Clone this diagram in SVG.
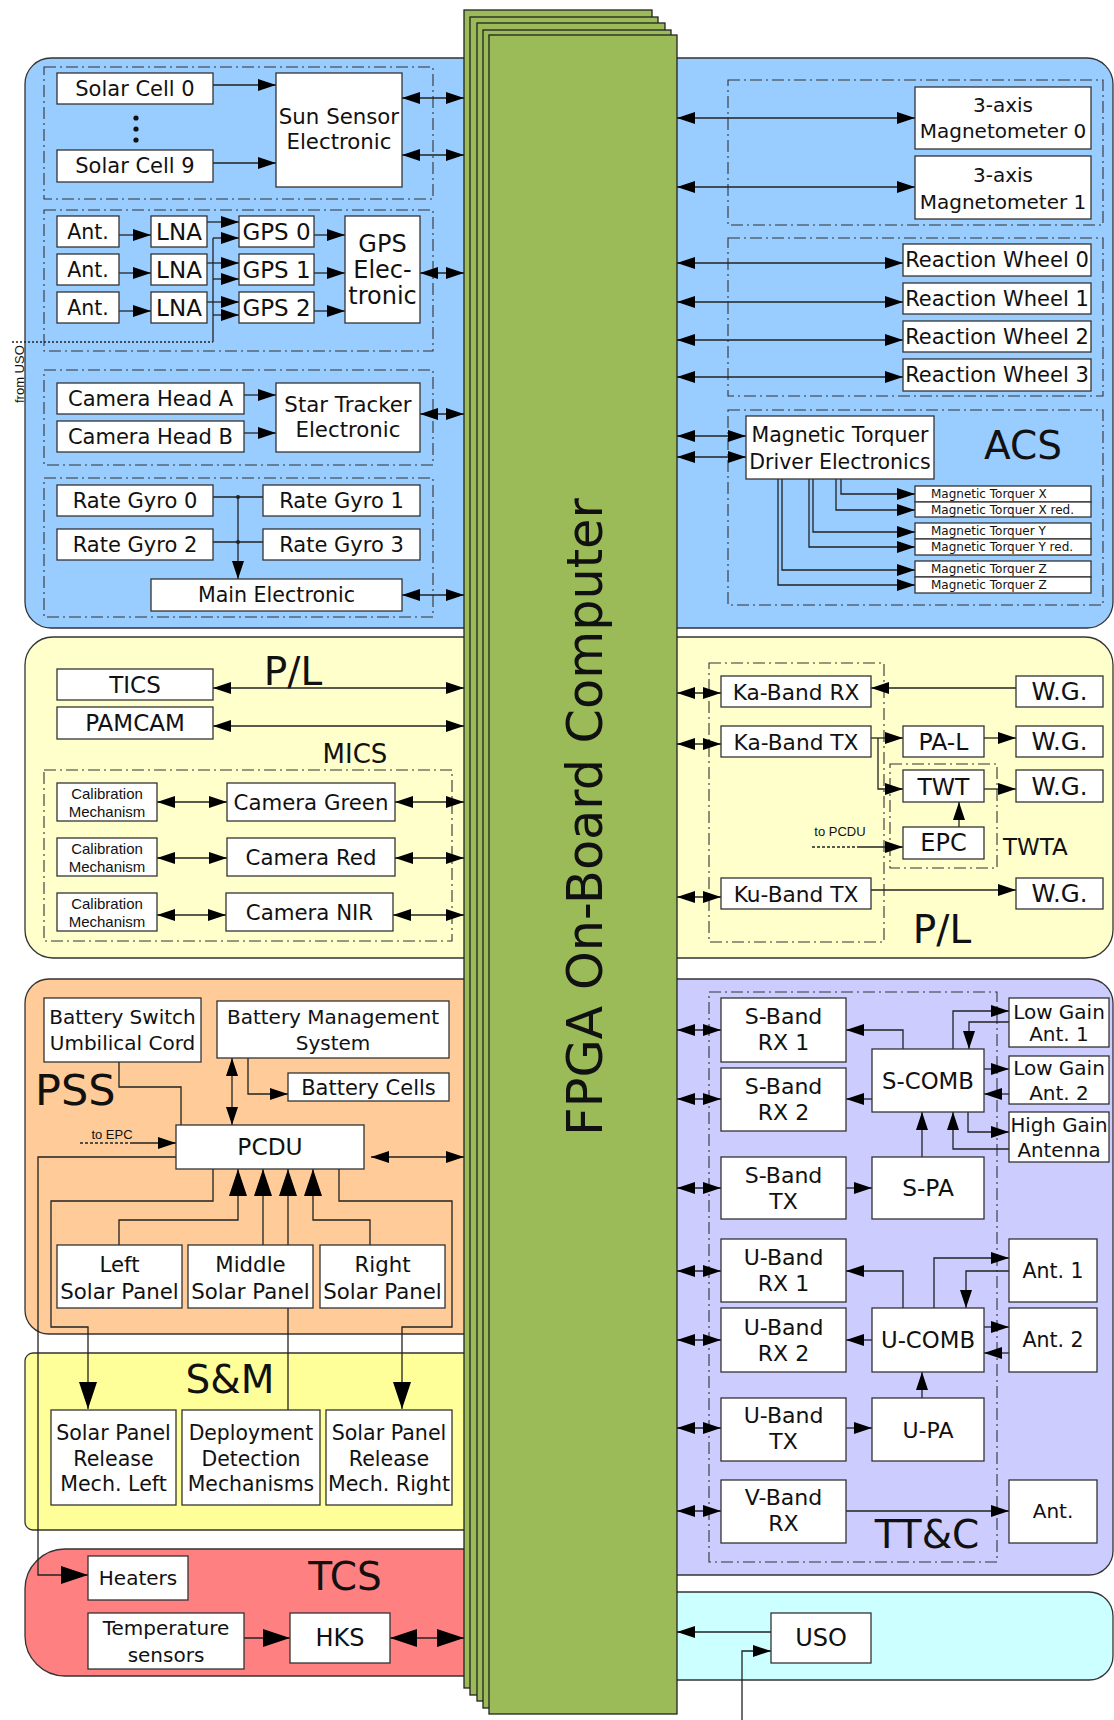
<svg xmlns="http://www.w3.org/2000/svg" width="1114" height="1720" viewBox="0 0 1114 1720">
<defs>
<style>
.p{stroke:#333;stroke-width:1.3}
.n rect{fill:#fff;stroke:#333;stroke-width:1.3}
.g{fill:none;stroke:#333;stroke-width:1.1;stroke-dasharray:12,4,2,4}
text{font-family:"DejaVu Sans",Verdana,sans-serif;font-size:21px;fill:#111;text-anchor:middle}
.f20{font-size:20px}
.f22{font-size:22px}
.f23{font-size:23px}
.f24{font-size:24px}
.lbl{font-size:39px}
.sm{font-family:"Liberation Sans",Arial,sans-serif;font-size:15px}
.xs{font-family:"Liberation Sans",Arial,sans-serif;font-size:13px}
.mt{font-size:12px;text-anchor:start}
#conn path{fill:none;stroke:#222;stroke-width:1.3}
.s{marker-end:url(#a)}
.d{marker-start:url(#a);marker-end:url(#a)}
.bs{marker-end:url(#b)}
.bd{marker-start:url(#b);marker-end:url(#b)}
.fp rect{fill:#9bbb59;stroke:#222;stroke-width:1.3}
</style>
<marker id="a" viewBox="0 0 18 12" refX="18" refY="6" markerWidth="18" markerHeight="12" markerUnits="userSpaceOnUse" orient="auto-start-reverse"><path d="M0,0L18,6L0,12z" fill="#000"/></marker>
<marker id="b" viewBox="0 0 27 18" refX="27" refY="9" markerWidth="27" markerHeight="18" markerUnits="userSpaceOnUse" orient="auto-start-reverse"><path d="M0,0L27,9L0,18z" fill="#000"/></marker>
</defs>
<rect width="1114" height="1720" fill="#fff"/>
<!-- panels -->
<g id="panels">
<rect class="p" x="25" y="58" width="1088" height="570" rx="26" fill="#99ccff"/>
<rect class="p" x="25" y="637" width="1088" height="321" rx="28" fill="#ffffcc"/>
<rect class="p" x="25" y="979" width="480" height="355" rx="24" fill="#ffcc99"/>
<rect class="p" x="620" y="979" width="493" height="596" rx="24" fill="#ccccff"/>
<rect class="p" x="25" y="1353" width="480" height="177" rx="8" fill="#ffff99"/>
<rect class="p" x="25" y="1549" width="480" height="127" rx="40" fill="#ff8080"/>
<rect class="p" x="620" y="1592" width="493" height="88" rx="24" fill="#ccffff"/>
<rect class="g" x="44" y="67" width="389" height="132"/>
<rect class="g" x="44" y="210" width="389" height="141"/>
<rect class="g" x="44" y="370" width="389" height="95"/>
<rect class="g" x="44" y="478" width="389" height="139"/>
<rect class="g" x="728" y="80" width="375" height="145"/>
<rect class="g" x="728" y="238" width="375" height="158"/>
<rect class="g" x="728" y="410" width="375" height="195"/>
<rect class="g" x="44" y="770" width="408" height="171"/>
<rect class="g" x="709" y="663" width="175" height="279"/>
<rect class="g" x="890" y="764" width="107" height="104"/>
<rect class="g" x="709" y="992" width="288" height="570"/>
<text class="lbl" x="1023" y="459">ACS</text>
<text class="lbl" x="293" y="685">P/L</text>
<text x="355" y="763" style="font-size:26px">MICS</text>
<text x="1003" y="855" style="font-size:23px;text-anchor:start">TWTA</text>
<text class="lbl" x="942" y="943">P/L</text>
<text x="35" y="1105" style="font-size:43px;text-anchor:start">PSS</text>
<text class="lbl" x="230" y="1393">S&amp;M</text>
<text class="lbl" x="345" y="1590">TCS</text>
<text class="lbl" x="927" y="1548">TT&amp;C</text>
</g>
<!-- FPGA -->
<g id="fpga" class="fp">
<rect x="464" y="10" width="188" height="1678"/>
<rect x="470" y="17" width="188" height="1678"/>
<rect x="477" y="23" width="188" height="1678"/>
<rect x="483" y="30" width="188" height="1678"/>
<rect x="489" y="35" width="188" height="1679"/>
<text transform="translate(602,817) rotate(-90)" style="font-size:49.3px">FPGA On-Board Computer</text>
</g>
<!-- connectors -->
<g id="conn">
<path class="s" d="M213,85H276"/>
<path class="s" d="M213,163H276"/>
<path class="d" d="M402,98H464"/>
<path class="d" d="M402,155H464"/>
<path class="s" d="M119,235H151"/>
<path class="s" d="M119,273H151"/>
<path class="s" d="M119,311H151"/>
<path class="s" d="M207,222H239"/>
<path class="s" d="M207,263H239"/>
<path class="s" d="M207,302H239"/>
<path d="M12,342H213" style="stroke-dasharray:2,2"/>
<path d="M213,342V238"/>
<path class="s" d="M213,238H239"/>
<path class="s" d="M213,279H239"/>
<path class="s" d="M213,315H239"/>
<path class="s" d="M314,235H345"/>
<path class="s" d="M314,273H345"/>
<path class="s" d="M314,311H345"/>
<path class="d" d="M420,273H464"/>
<path class="s" d="M244,395H276"/>
<path class="s" d="M244,433H276"/>
<path class="d" d="M420,414H464"/>
<path d="M213,497H263M213,542H263"/>
<path class="s" d="M238,497V579"/>
<path class="d" d="M402,595H464"/>
<path class="d" d="M677,118H915"/>
<path class="d" d="M677,187H915"/>
<path class="d" d="M677,263H903"/>
<path class="d" d="M677,302H903"/>
<path class="d" d="M677,340H903"/>
<path class="d" d="M677,377H903"/>
<path class="d" d="M677,436H746"/>
<path class="d" d="M677,457H746"/>
<path class="s" d="M841,479V494H915"/>
<path class="s" d="M836,479V510H915"/>
<path class="s" d="M813,479V532H915"/>
<path class="s" d="M809,479V547H915"/>
<path class="s" d="M782,479V570H915"/>
<path class="s" d="M778,479V585H915"/>
<path class="d" d="M213,688H464"/>
<path class="d" d="M213,726H464"/>
<path class="d" d="M157,802H227"/>
<path class="d" d="M157,858H227"/>
<path class="d" d="M157,915H226"/>
<path class="d" d="M395,802H464"/>
<path class="d" d="M395,858H464"/>
<path class="d" d="M393,915H464"/>
<path class="d" d="M677,693H721"/>
<path class="d" d="M677,744H721"/>
<path class="d" d="M677,897H721"/>
<path class="s" d="M1016,688H871"/>
<path class="s" d="M871,738H903"/>
<path class="s" d="M878,738V789H903"/>
<path class="s" d="M984,738H1016"/>
<path class="s" d="M984,789H1016"/>
<path class="s" d="M959,827V802"/>
<path d="M812,847H860" style="stroke-dasharray:3,2"/>
<path class="s" d="M860,847H903"/>
<path class="s" d="M871,890H1016"/>
<path d="M119,1062V1087H181V1125"/>
<path class="d" d="M232,1058V1125"/>
<path class="s" d="M248,1058V1094H288"/>
<path d="M80,1143H133" style="stroke-dasharray:3,2"/>
<path class="s" d="M133,1143H176"/>
<path class="d" d="M371,1157H464"/>
<path class="bs" d="M176,1157H38V1575H88"/>
<path class="bs" d="M213,1169V1201H51V1327H88V1409"/>
<path class="bs" d="M339,1169V1201H452V1327H402V1409"/>
<path class="bs" d="M119,1245V1220H238V1169"/>
<path class="bs" d="M263,1245V1169"/>
<path class="bs" d="M288,1410V1169"/>
<path class="bs" d="M370,1245V1220H313V1169"/>
<path class="bs" d="M244,1638H290"/>
<path class="bd" d="M390,1638H464"/>
<path class="d" d="M677,1030H721"/>
<path class="d" d="M677,1099H721"/>
<path class="d" d="M677,1188H721"/>
<path class="d" d="M677,1271H721"/>
<path class="d" d="M677,1340H721"/>
<path class="d" d="M677,1428H721"/>
<path class="d" d="M677,1511H721"/>
<path class="s" d="M903,1049V1030H846"/>
<path class="s" d="M872,1099H846"/>
<path class="s" d="M922,1157V1112"/>
<path class="s" d="M846,1188H872"/>
<path class="s" d="M953,1049V1011H1009"/>
<path class="s" d="M1009,1022H969V1049"/>
<path class="s" d="M984,1069H1009"/>
<path class="s" d="M1009,1094H984"/>
<path class="s" d="M968,1112V1132H1009"/>
<path class="s" d="M1009,1149H953V1112"/>
<path class="s" d="M903,1308V1271H846"/>
<path class="s" d="M934,1308V1258H1009"/>
<path class="s" d="M1009,1271H966V1308"/>
<path class="s" d="M872,1340H846"/>
<path class="s" d="M984,1327H1009"/>
<path class="s" d="M1009,1353H984"/>
<path class="s" d="M922,1398V1372"/>
<path class="s" d="M846,1428H872"/>
<path class="s" d="M846,1511H1009"/>
<path class="s" d="M771,1632H677"/>
<path class="s" d="M742,1720V1651H771"/>
</g>
<circle cx="238" cy="497" r="2" fill="#222"/>
<circle cx="238" cy="542" r="2" fill="#222"/>
<circle cx="136" cy="118" r="2.6" fill="#111"/>
<circle cx="136" cy="129" r="2.6" fill="#111"/>
<circle cx="136" cy="140" r="2.6" fill="#111"/>
<text class="xs" transform="translate(24,403) rotate(-90)" style="text-anchor:start">from USO</text>
<text class="xs" x="840" y="836">to PCDU</text>
<text class="xs" x="112" y="1139">to EPC</text>
<!-- nodes -->
<g id="n-solar0" class="n"><rect x="57" y="73" width="156" height="31"/><text x="135" y="96">Solar Cell 0</text></g>
<g id="n-solar9" class="n"><rect x="57" y="150" width="156" height="32"/><text x="135" y="173">Solar Cell 9</text></g>
<g id="n-sse" class="n"><rect x="276" y="73" width="126" height="114"/><text x="339" y="124" style="font-size:21.3px">Sun Sensor</text><text x="339" y="149" style="font-size:21.3px">Electronic</text></g>
<g id="n-ant0" class="n"><rect x="57" y="216" width="62" height="31"/><text x="88" y="239" style="font-size:20.5px">Ant.</text></g>
<g id="n-ant1" class="n"><rect x="57" y="254" width="62" height="31"/><text x="88" y="277" style="font-size:20.5px">Ant.</text></g>
<g id="n-ant2" class="n"><rect x="57" y="292" width="62" height="31"/><text x="88" y="315" style="font-size:20.5px">Ant.</text></g>
<g id="n-lna0" class="n"><rect x="151" y="216" width="56" height="31"/><text class="f23" x="179" y="240">LNA</text></g>
<g id="n-lna1" class="n"><rect x="151" y="254" width="56" height="31"/><text class="f23" x="179" y="278">LNA</text></g>
<g id="n-lna2" class="n"><rect x="151" y="292" width="56" height="31"/><text class="f23" x="179" y="316">LNA</text></g>
<g id="n-gps0" class="n"><rect x="239" y="216" width="75" height="31"/><text class="f23" x="276.5" y="240">GPS 0</text></g>
<g id="n-gps1" class="n"><rect x="239" y="254" width="75" height="31"/><text class="f23" x="276.5" y="278">GPS 1</text></g>
<g id="n-gps2" class="n"><rect x="239" y="292" width="75" height="31"/><text class="f23" x="276.5" y="316">GPS 2</text></g>
<g id="n-gpse" class="n"><rect x="345" y="216" width="75" height="107"/><text class="f24" x="382.5" y="252">GPS</text><text class="f24" x="382.5" y="278">Elec-</text><text class="f24" x="382.5" y="304">tronic</text></g>
<g id="n-cama" class="n"><rect x="57" y="383" width="187" height="31"/><text x="150.5" y="406">Camera Head A</text></g>
<g id="n-camb" class="n"><rect x="57" y="421" width="187" height="31"/><text x="150.5" y="444">Camera Head B</text></g>
<g id="n-ste" class="n"><rect x="276" y="383" width="144" height="69"/><text x="348" y="412" style="font-size:21.3px">Star Tracker</text><text x="348" y="437" style="font-size:21.3px">Electronic</text></g>
<g id="n-rg0" class="n"><rect x="57" y="485" width="156" height="31"/><text x="135" y="508">Rate Gyro 0</text></g>
<g id="n-rg1" class="n"><rect x="263" y="485" width="157" height="31"/><text x="341.5" y="508">Rate Gyro 1</text></g>
<g id="n-rg2" class="n"><rect x="57" y="529" width="156" height="31"/><text x="135" y="552">Rate Gyro 2</text></g>
<g id="n-rg3" class="n"><rect x="263" y="529" width="157" height="31"/><text x="341.5" y="552">Rate Gyro 3</text></g>
<g id="n-main" class="n"><rect x="151" y="579" width="251" height="32"/><text x="276.5" y="602" style="font-size:20.6px">Main Electronic</text></g>
<g id="n-mag0" class="n"><rect x="915" y="87" width="176" height="62"/><text class="f20" x="1003" y="112">3-axis</text><text class="f20" x="1003" y="138">Magnetometer 0</text></g>
<g id="n-mag1" class="n"><rect x="915" y="156" width="176" height="63"/><text class="f20" x="1003" y="182">3-axis</text><text class="f20" x="1003" y="209">Magnetometer 1</text></g>
<g id="n-rw0" class="n"><rect x="903" y="244" width="188" height="32"/><text x="997" y="267">Reaction Wheel 0</text></g>
<g id="n-rw1" class="n"><rect x="903" y="283" width="188" height="31"/><text x="997" y="306">Reaction Wheel 1</text></g>
<g id="n-rw2" class="n"><rect x="903" y="321" width="188" height="31"/><text x="997" y="344">Reaction Wheel 2</text></g>
<g id="n-rw3" class="n"><rect x="903" y="359" width="188" height="32"/><text x="997" y="382">Reaction Wheel 3</text></g>
<g id="n-mtde" class="n"><rect x="746" y="416" width="188" height="63"/><text x="840" y="442" style="font-size:20.5px">Magnetic Torquer</text><text x="840" y="469" style="font-size:20.5px">Driver Electronics</text></g>
<g id="n-mtx" class="n"><rect x="915" y="486" width="176" height="16"/><text class="mt" x="931" y="498">Magnetic Torquer X</text></g>
<g id="n-mtxr" class="n"><rect x="915" y="502" width="176" height="15"/><text class="mt" x="931" y="514">Magnetic Torquer X red.</text></g>
<g id="n-mty" class="n"><rect x="915" y="523" width="176" height="16"/><text class="mt" x="931" y="535">Magnetic Torquer Y</text></g>
<g id="n-mtyr" class="n"><rect x="915" y="539" width="176" height="16"/><text class="mt" x="931" y="551">Magnetic Torquer Y red.</text></g>
<g id="n-mtz" class="n"><rect x="915" y="561" width="176" height="16"/><text class="mt" x="931" y="573">Magnetic Torquer Z</text></g>
<g id="n-mtz2" class="n"><rect x="915" y="577" width="176" height="16"/><text class="mt" x="931" y="589">Magnetic Torquer Z</text></g>
<g id="n-tics" class="n"><rect x="57" y="669" width="156" height="31"/><text class="f23" x="135" y="693">TICS</text></g>
<g id="n-pamcam" class="n"><rect x="57" y="707" width="156" height="32"/><text class="f23" x="135" y="731">PAMCAM</text></g>
<g id="n-cal1" class="n"><rect x="57" y="783" width="100" height="38"/><text class="sm" x="107" y="799">Calibration</text><text class="sm" x="107" y="817">Mechanism</text></g>
<g id="n-cal2" class="n"><rect x="57" y="838" width="100" height="38"/><text class="sm" x="107" y="854">Calibration</text><text class="sm" x="107" y="872">Mechanism</text></g>
<g id="n-cal3" class="n"><rect x="57" y="893" width="100" height="38"/><text class="sm" x="107" y="909">Calibration</text><text class="sm" x="107" y="927">Mechanism</text></g>
<g id="n-camg" class="n"><rect x="227" y="783" width="168" height="38"/><text x="311" y="810" style="font-size:21.3px">Camera Green</text></g>
<g id="n-camr" class="n"><rect x="227" y="838" width="168" height="38"/><text x="311" y="865" style="font-size:21.3px">Camera Red</text></g>
<g id="n-camn" class="n"><rect x="226" y="893" width="167" height="38"/><text x="309.5" y="920" style="font-size:21.3px">Camera NIR</text></g>
<g id="n-karx" class="n"><rect x="721" y="676" width="150" height="31"/><text x="796" y="700" style="font-size:21.7px">Ka-Band RX</text></g>
<g id="n-katx" class="n"><rect x="721" y="726" width="150" height="31"/><text x="796" y="750" style="font-size:21.7px">Ka-Band TX</text></g>
<g id="n-kutx" class="n"><rect x="721" y="878" width="150" height="31"/><text x="796" y="902" style="font-size:21.7px">Ku-Band TX</text></g>
<g id="n-wg1" class="n"><rect x="1016" y="676" width="87" height="31"/><text x="1059.5" y="700" style="font-size:24.5px">W.G.</text></g>
<g id="n-wg2" class="n"><rect x="1016" y="726" width="87" height="31"/><text x="1059.5" y="750" style="font-size:24.5px">W.G.</text></g>
<g id="n-wg3" class="n"><rect x="1016" y="770" width="87" height="32"/><text x="1059.5" y="795" style="font-size:24.5px">W.G.</text></g>
<g id="n-wg4" class="n"><rect x="1016" y="878" width="87" height="31"/><text x="1059.5" y="902" style="font-size:24.5px">W.G.</text></g>
<g id="n-pal" class="n"><rect x="903" y="726" width="81" height="31"/><text x="943.5" y="750" style="font-size:23.5px">PA-L</text></g>
<g id="n-twt" class="n"><rect x="903" y="770" width="81" height="32"/><text x="943.5" y="795" style="font-size:23.5px">TWT</text></g>
<g id="n-epc" class="n"><rect x="903" y="827" width="81" height="32"/><text class="f24" x="943.5" y="851">EPC</text></g>
<g id="n-bsuc" class="n"><rect x="44" y="998" width="157" height="64"/><text class="f20" x="122.5" y="1024">Battery Switch</text><text class="f20" x="122.5" y="1050">Umbilical Cord</text></g>
<g id="n-bms" class="n"><rect x="217" y="1001" width="232" height="57"/><text class="f20" x="333" y="1024">Battery Management</text><text class="f20" x="333" y="1050">System</text></g>
<g id="n-cells" class="n"><rect x="288" y="1073" width="161" height="28"/><text x="368.5" y="1095">Battery Cells</text></g>
<g id="n-pcdu" class="n"><rect x="176" y="1125" width="188" height="44"/><text x="270" y="1155" style="font-size:23.3px">PCDU</text></g>
<g id="n-lsp" class="n"><rect x="57" y="1245" width="125" height="63"/><text x="119.5" y="1272" style="font-size:21.3px">Left</text><text x="119.5" y="1299" style="font-size:21.3px">Solar Panel</text></g>
<g id="n-msp" class="n"><rect x="188" y="1245" width="125" height="63"/><text x="250.5" y="1272" style="font-size:21.3px">Middle</text><text x="250.5" y="1299" style="font-size:21.3px">Solar Panel</text></g>
<g id="n-rsp" class="n"><rect x="320" y="1245" width="125" height="63"/><text x="382.5" y="1272" style="font-size:21.3px">Right</text><text x="382.5" y="1299" style="font-size:21.3px">Solar Panel</text></g>
<g id="n-sprl" class="n"><rect x="51" y="1410" width="125" height="95"/><text x="113.5" y="1440" style="font-size:20.6px">Solar Panel</text><text x="113.5" y="1466" style="font-size:20.6px">Release</text><text x="113.5" y="1491" style="font-size:20.6px">Mech. Left</text></g>
<g id="n-ddm" class="n"><rect x="182" y="1410" width="138" height="95"/><text x="251" y="1440" style="font-size:20.4px">Deployment</text><text x="251" y="1466" style="font-size:20.4px">Detection</text><text x="251" y="1491" style="font-size:20.4px">Mechanisms</text></g>
<g id="n-sprr" class="n"><rect x="326" y="1410" width="126" height="95"/><text x="389" y="1440" style="font-size:20.6px">Solar Panel</text><text x="389" y="1466" style="font-size:20.6px">Release</text><text x="389" y="1491" style="font-size:20.6px">Mech. Right</text></g>
<g id="n-heat" class="n"><rect x="88" y="1556" width="100" height="44"/><text class="f20" x="138" y="1585">Heaters</text></g>
<g id="n-temp" class="n"><rect x="88" y="1613" width="156" height="56"/><text class="f20" x="166" y="1635">Temperature</text><text class="f20" x="166" y="1662">sensors</text></g>
<g id="n-hks" class="n"><rect x="290" y="1613" width="100" height="50"/><text class="f24" x="340" y="1646">HKS</text></g>
<g id="n-srx1" class="n"><rect x="721" y="998" width="125" height="64"/><text class="f22" x="783.5" y="1024">S-Band</text><text class="f22" x="783.5" y="1050">RX 1</text></g>
<g id="n-srx2" class="n"><rect x="721" y="1068" width="125" height="63"/><text class="f22" x="783.5" y="1094">S-Band</text><text class="f22" x="783.5" y="1120">RX 2</text></g>
<g id="n-stx" class="n"><rect x="721" y="1157" width="125" height="62"/><text class="f22" x="783.5" y="1183">S-Band</text><text class="f22" x="783.5" y="1209">TX</text></g>
<g id="n-urx1" class="n"><rect x="721" y="1239" width="125" height="63"/><text class="f22" x="783.5" y="1265">U-Band</text><text class="f22" x="783.5" y="1291">RX 1</text></g>
<g id="n-urx2" class="n"><rect x="721" y="1308" width="125" height="64"/><text class="f22" x="783.5" y="1335">U-Band</text><text class="f22" x="783.5" y="1361">RX 2</text></g>
<g id="n-utx" class="n"><rect x="721" y="1398" width="125" height="63"/><text class="f22" x="783.5" y="1423">U-Band</text><text class="f22" x="783.5" y="1449">TX</text></g>
<g id="n-vrx" class="n"><rect x="721" y="1480" width="125" height="63"/><text class="f22" x="783.5" y="1505">V-Band</text><text class="f22" x="783.5" y="1531">RX</text></g>
<g id="n-scomb" class="n"><rect x="872" y="1049" width="112" height="63"/><text x="928" y="1089" style="font-size:22.8px">S-COMB</text></g>
<g id="n-spa" class="n"><rect x="872" y="1157" width="112" height="62"/><text x="928" y="1196" style="font-size:23.3px">S-PA</text></g>
<g id="n-ucomb" class="n"><rect x="872" y="1308" width="112" height="64"/><text x="928" y="1348" style="font-size:22.8px">U-COMB</text></g>
<g id="n-upa" class="n"><rect x="872" y="1398" width="112" height="63"/><text x="928" y="1438" class="f22">U-PA</text></g>
<g id="n-lga1" class="n"><rect x="1009" y="998" width="100" height="49"/><text class="f20" x="1059" y="1019">Low Gain</text><text class="f20" x="1059" y="1041">Ant. 1</text></g>
<g id="n-lga2" class="n"><rect x="1009" y="1056" width="100" height="48"/><text class="f20" x="1059" y="1075">Low Gain</text><text class="f20" x="1059" y="1100">Ant. 2</text></g>
<g id="n-hga" class="n"><rect x="1009" y="1112" width="100" height="50"/><text x="1059" y="1132" style="font-size:19.8px">High Gain</text><text x="1059" y="1157" style="font-size:19.8px">Antenna</text></g>
<g id="n-uant1" class="n"><rect x="1009" y="1239" width="88" height="63"/><text x="1053" y="1278" style="font-size:20.5px">Ant. 1</text></g>
<g id="n-uant2" class="n"><rect x="1009" y="1308" width="88" height="64"/><text x="1053" y="1347" style="font-size:20.5px">Ant. 2</text></g>
<g id="n-vant" class="n"><rect x="1009" y="1480" width="88" height="63"/><text class="f20" x="1053" y="1518">Ant.</text></g>
<g id="n-uso" class="n"><rect x="771" y="1613" width="100" height="50"/><text class="f24" x="821" y="1646">USO</text></g>
</svg>
